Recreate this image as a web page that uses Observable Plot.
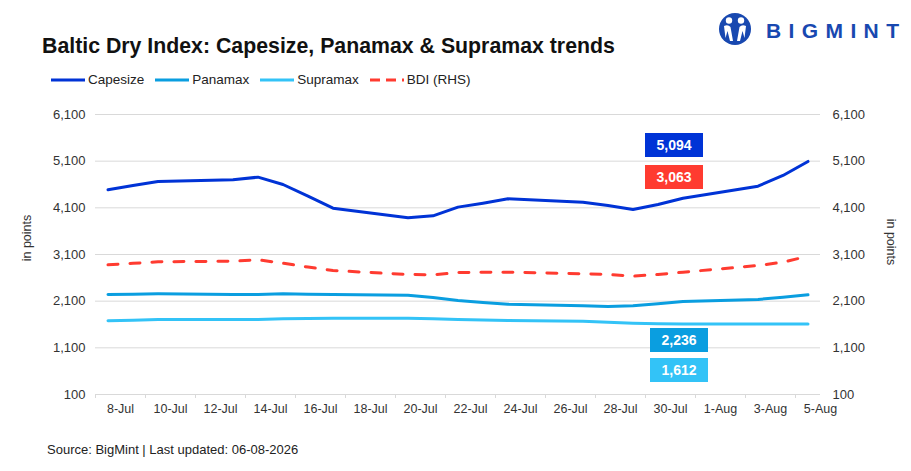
<!DOCTYPE html>
<html>
<head>
<meta charset="utf-8">
<script src="https://cdn.jsdelivr.net/npm/d3@7"></script>
<script src="https://cdn.jsdelivr.net/npm/@observablehq/plot@0.6"></script>
<style>
  html, body { margin: 0; padding: 0; background: #fff; }
  #wrap { position: relative; width: 911px; height: 471px; overflow: hidden; font-family: "Liberation Sans", Arial, sans-serif; color: #333; }
  .abs { position: absolute; }
  #title { left: 42px; top: 34px; font-size: 21.3px; font-weight: bold; color: #111; white-space: nowrap; }
  #legend { left: 50px; top: 72px; font-size: 13.5px; color: #222; display: flex; align-items: center; white-space: nowrap; }
  #legend .item { display: flex; align-items: center; margin-right: 10px; }
  #legend svg { margin-right: 2px; }
  #chart { left: 0; top: 100px; }
  .ylab { font-size: 12.5px; color: #333; white-space: nowrap; }
  .box { width: 58px; height: 24px; color: #fff; font-weight: bold; font-size: 14px; display: flex; align-items: center; justify-content: center; }
  #source { left: 47px; top: 442px; font-size: 13px; color: #222; white-space: nowrap; }
  #logo { left: 716px; top: 11px; }
</style>
</head>
<body>
<div id="wrap">
  <div id="logo" class="abs">
    <svg width="190" height="36" viewBox="0 0 190 36">
      <circle cx="19" cy="18" r="16" fill="#1848b0"/>
      <circle cx="13" cy="9.5" r="3.2" fill="#fff"/>
      <circle cx="25" cy="9.5" r="3.2" fill="#fff"/>
      <path d="M8 15 Q12 13 14.5 16 L17 30 L14 30 L11.5 20 L9.5 27 Z" fill="#fff"/>
      <path d="M30 15 Q26 13 23.5 16 L21 30 L24 30 L26.5 20 L28.5 27 Z" fill="#fff"/>
      <text x="50" y="27" font-family="Liberation Sans, Arial, sans-serif" font-weight="bold" font-size="21" textLength="133" lengthAdjust="spacing" fill="#1848b0">BIGMINT</text>
    </svg>
  </div>
  <div id="title" class="abs">Baltic Dry Index: Capesize, Panamax &amp; Supramax trends</div>
  <div id="legend" class="abs"></div>
  <div id="chart" class="abs"></div>
  <div class="abs ylab" style="left:27px; top:238px; transform: translate(-50%,-50%) rotate(-90deg);">in points</div>
  <div class="abs ylab" style="left:891px; top:242px; transform: translate(-50%,-50%) rotate(90deg);">in points</div>
  <div id="boxes"></div>
  <div id="source" class="abs">Source: BigMint | Last updated: 06-08-2026</div>
</div>
<script>
// ---- data ----
const dates = ["2026-07-08","2026-07-09","2026-07-10","2026-07-13","2026-07-14","2026-07-15","2026-07-16","2026-07-17",
  "2026-07-20","2026-07-21","2026-07-22","2026-07-23","2026-07-24","2026-07-27","2026-07-28","2026-07-29","2026-07-30",
  "2026-07-31","2026-08-03","2026-08-04","2026-08-05"];
const capesize = [4486,4580,4665,4701,4757,4600,4350,4093,3886,3929,4115,4200,4293,4222,4150,4064,4172,4307,4564,4793,5094];
const panamax  = [2243,2250,2257,2243,2243,2257,2250,2243,2229,2179,2114,2072,2035,2000,1986,2000,2043,2093,2136,2186,2236];
const supramax = [1679,1693,1707,1707,1707,1722,1729,1736,1736,1722,1707,1696,1686,1671,1650,1629,1615,1612,1612,1612,1612];
const bdi      = [2879,2911,2943,2957,2986,2914,2830,2757,2672,2665,2714,2718,2721,2686,2672,2636,2672,2721,2864,2936,3063];
const seriesNames = ["Capesize","Panamax","Supramax","BDI (RHS)"];
const seriesColors = ["#0033d6","#0a9ee0","#33c3f7","#ff3b30"];
const yTicks = [100,1100,2100,3100,4100,5100,6100];
const xLabelDays = ["2026-07-08","2026-07-10","2026-07-12","2026-07-14","2026-07-16","2026-07-18","2026-07-20","2026-07-22",
  "2026-07-24","2026-07-26","2026-07-28","2026-07-30","2026-08-01","2026-08-03","2026-08-05"];

// ---- build ----
const DAY = 864e5;
const parse = s => new Date(s + "T00:00:00Z");
const allValues = [capesize, panamax, supramax, bdi];
const rows = allValues.flatMap((vals, k) => vals.map((v, i) => ({date: parse(dates[i]), value: v, series: seriesNames[k]})));
const labelDates = xLabelDays.map(s => new Date(+parse(s) + DAY / 2));
const tickDates = xLabelDays.map(s => new Date(+parse(s) - DAY / 2));
const xDomain = [new Date(+parse(dates[0]) - DAY / 2), new Date(+parse(dates[dates.length - 1]) + DAY / 2)];
const fmtLabel = d => d3.utcFormat("%-d-%b")(new Date(+d - DAY / 2));

const chart = Plot.plot({
  width: 911, height: 330,
  marginLeft: 95, marginRight: 91, marginTop: 14, marginBottom: 36,
  style: {fontFamily: "Liberation Sans, Arial, sans-serif", fontSize: "12px", color: "#333", background: "transparent"},
  x: {type: "utc", domain: xDomain},
  y: {domain: [yTicks[0], yTicks[yTicks.length - 1]]},
  color: {domain: seriesNames, range: seriesColors},
  marks: [
    Plot.gridY(yTicks, {stroke: "#d9d9d9", strokeOpacity: 1, strokeWidth: 1}),
    Plot.axisX(tickDates, {tickSize: 4, stroke: "#d9d9d9", strokeOpacity: 1, text: null}),
    Plot.axisX(labelDates, {tickSize: 0, tickPadding: 10, tickFormat: fmtLabel, fontSize: 12.5, fill: "#333"}),
    Plot.axisY(yTicks, {anchor: "left", tickSize: 0, tickPadding: 10, tickFormat: d3.format(","), fontSize: 13, fill: "#333", label: null}),
    Plot.axisY(yTicks, {anchor: "right", tickSize: 0, tickPadding: 12, tickFormat: d3.format(","), fontSize: 13, fill: "#333", label: null}),
    Plot.line(rows.filter(r => r.series !== "BDI (RHS)"), {x: "date", y: "value", z: "series", stroke: "series", strokeWidth: 3, curve: "linear"}),
    Plot.line(rows.filter(r => r.series === "BDI (RHS)"), {x: "date", y: "value", stroke: "series", strokeWidth: 3, strokeDasharray: "10,12", curve: "linear"})
  ]
});
document.getElementById("chart").appendChild(chart);

// legend
const legend = document.getElementById("legend");
seriesNames.forEach((name, k) => {
  const item = document.createElement("div");
  item.className = "item";
  const dash = k === 3 ? 'stroke-dasharray="10,6"' : '';
  item.innerHTML = `<svg width="36" height="10"><line x1="1" y1="5" x2="35" y2="5" stroke="${seriesColors[k]}" stroke-width="3" ${dash}/></svg><span>${name}</span>`;
  legend.appendChild(item);
});

// value boxes (last values)
const boxes = document.getElementById("boxes");
const boxPos = [[645,133],[650,328],[650,358],[645,165]];
allValues.forEach((vals, k) => {
  const b = document.createElement("div");
  b.className = "abs box";
  b.style.left = boxPos[k][0] + "px";
  b.style.top = boxPos[k][1] + "px";
  b.style.background = seriesColors[k];
  b.textContent = d3.format(",")(vals[vals.length - 1]);
  boxes.appendChild(b);
});
</script>
</body>
</html>
